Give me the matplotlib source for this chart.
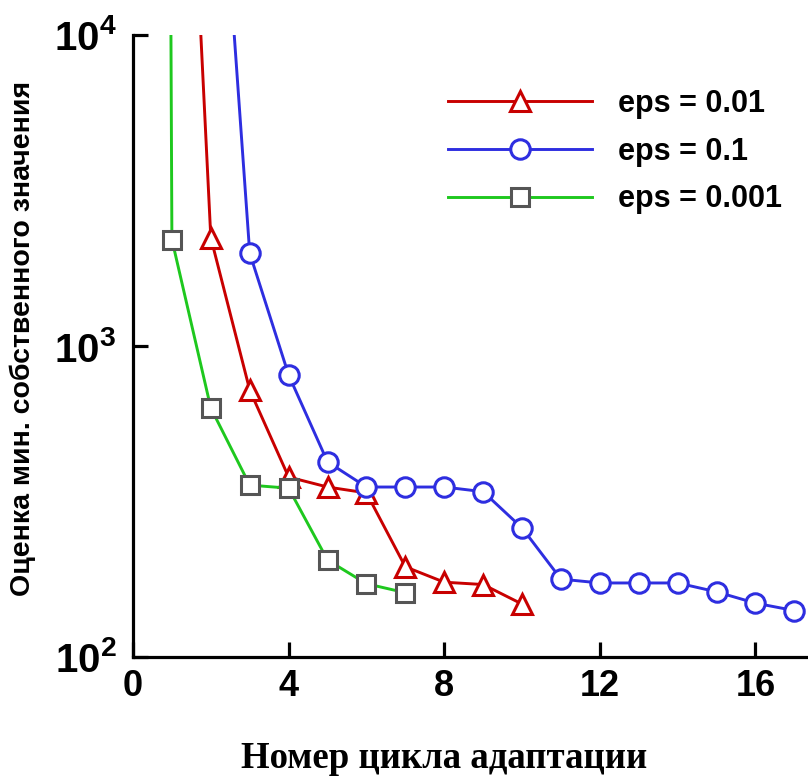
import math
import matplotlib
matplotlib.use("Agg")
import matplotlib.pyplot as plt
from matplotlib.ticker import FixedLocator, FuncFormatter, NullLocator

plt.rcParams['font.family'] = ['Liberation Sans', 'DejaVu Sans']
plt.rcParams['mathtext.fontset'] = 'custom'
plt.rcParams['mathtext.rm'] = 'Liberation Sans'
plt.rcParams['mathtext.bf'] = 'Liberation Sans:bold'

# ---- data ----
x_eps001 = [1, 2, 3, 4, 5, 6, 7, 8, 9, 10]
y_eps001 = [7.8e5, 2230, 722, 379, 352, 337, 195, 174, 171, 148]

x_eps01 = [2, 3, 4, 5, 6, 7, 8, 9, 10, 11, 12, 13, 14, 15, 16, 17]
y_eps01 = [1.15e5, 1990, 807, 424, 352, 352, 352, 340, 260, 178, 173, 173, 173, 162, 149, 141]

x_eps0001 = [0, 1, 2, 3, 4, 5, 6, 7]
y_eps0001 = [1e30, 2200, 632, 357, 349, 205, 172, 161]

labels = ['eps = 0.01', 'eps = 0.1', 'eps = 0.001']
x_ticks = [0, 4, 8, 12, 16]
y_ticks = [1e2, 1e3, 1e4]

W, H = 808, 779
fig = plt.figure(figsize=(W / 100, H / 100), dpi=100)
ax = fig.add_axes([133 / W, 122 / H, 675 / W, 622 / H])

lw = 2.1
mew = 2.2
l1, = ax.plot(x_eps001, y_eps001, color='#c80000', lw=lw, marker='^', ms=14,
              mfc='white', mec='#c80000', mew=mew, zorder=3)
l2, = ax.plot(x_eps01, y_eps01, color='#2e2ee0', lw=lw, marker='o', ms=14,
              mfc='white', mec='#2e2ee0', mew=mew, zorder=3)
l3, = ax.plot(x_eps0001, y_eps0001, color='#1ec81e', lw=lw, marker='s', ms=12.5,
              mfc='white', mec='#555555', mew=mew, zorder=3)

ax.set_yscale('log')
ax.set_xlim(0, 17.35)
ax.set_ylim(100, 10000)

for s in ['top', 'right']:
    ax.spines[s].set_visible(False)
for s in ['left', 'bottom']:
    ax.spines[s].set_linewidth(2.3)

ax.xaxis.set_major_locator(FixedLocator(x_ticks))
ax.yaxis.set_major_locator(FixedLocator(y_ticks))
ax.yaxis.set_minor_locator(NullLocator())
ax.yaxis.set_major_formatter(FuncFormatter(
    lambda v, p: r'$\mathbf{10^{%d}}$' % round(math.log10(v))))
ax.tick_params(axis='both', direction='in', length=11, width=2.3)
ax.tick_params(axis='x', labelsize=26, pad=9)
ax.tick_params(axis='y', labelsize=29, pad=12)
for t in ax.get_xticklabels():
    t.set_fontweight('bold')

ax.set_xlabel('Номер цикла адаптации', fontfamily='Liberation Serif',
              fontweight='bold', fontsize=26.5, va='baseline')
ax.xaxis.set_label_coords((444 - 133) / 675, (657 - 768) / 622)
ax.set_ylabel('Оценка мин. собственного значения', fontweight='bold',
              fontsize=20.5, va='center')
ax.yaxis.set_label_coords((23 - 133) / 675, (657 - 338) / 622)

leg = ax.legend([l1, l2, l3], labels, loc='upper left', frameon=False,
                bbox_to_anchor=(448 / W, 1 - 89 / H), bbox_transform=fig.transFigure,
                borderpad=0, borderaxespad=0, handlelength=4.7, handletextpad=0.85,
                labelspacing=0.58, prop={'weight': 'bold', 'size': 22})

fig.savefig('out.png', dpi=100)
